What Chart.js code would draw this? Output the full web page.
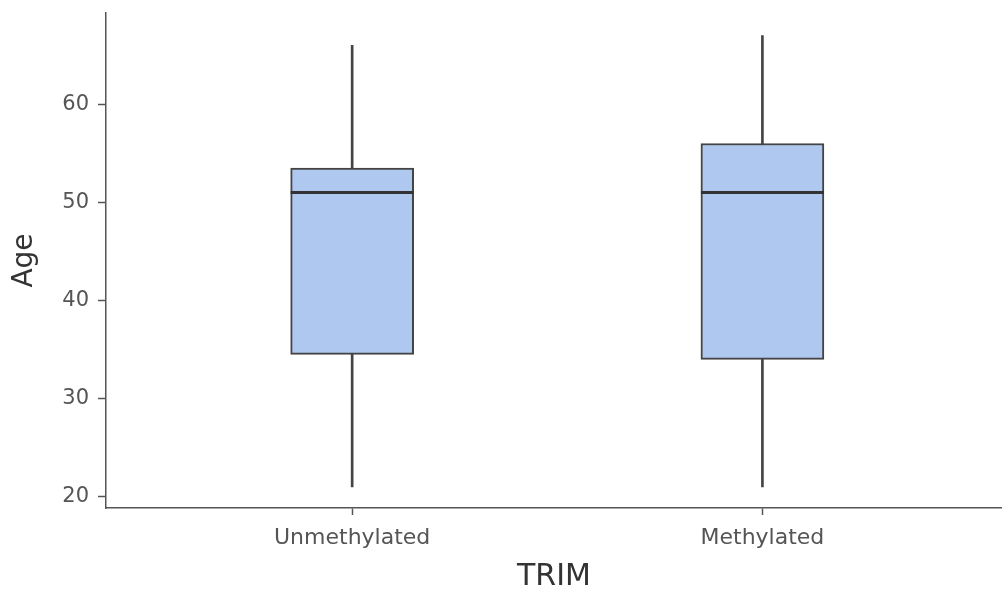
<!DOCTYPE html>
<html>
<head>
<meta charset="utf-8">
<script src="https://cdn.jsdelivr.net/npm/chart.js@4.4.1/dist/chart.umd.min.js"></script>
<style>
  html, body { margin: 0; padding: 0; background: #fff; }
  #wrap { width: 1002px; height: 595px; }
</style>
</head>
<body>
<div id="wrap"><canvas id="box"></canvas></div>
<script>
// box plot values
const categories = ['Unmethylated', 'Methylated'];
const whiskerLow = [21, 21];
const q1 = [34.5, 34];
const medians = [51, 51];
const q3 = [53.5, 56];
const whiskerHigh = [66, 67];
const yTicks = [20, 30, 40, 50, 60];

const axisColor = '#555';
const boxWidth = 123;

// x positions 1, 2 on a linear axis so the padding matches the original
const boxData = categories.map((c, i) => ({ x: i + 1, y: [q1[i], q3[i]] }));
const whiskerData = categories.map((c, i) => ({ x: i + 1, y: [whiskerLow[i], whiskerHigh[i]] }));

const medianLines = {
  id: 'medianLines',
  afterDatasetsDraw(chart) {
    const ctx = chart.ctx;
    const xs = chart.scales.x, ys = chart.scales.y;
    ctx.save();
    ctx.strokeStyle = '#333';
    ctx.lineWidth = 3;
    medians.forEach((m, i) => {
      const cx = xs.getPixelForValue(i + 1);
      const y = ys.getPixelForValue(m);
      ctx.beginPath();
      ctx.moveTo(cx - boxWidth / 2, y);
      ctx.lineTo(cx + boxWidth / 2, y);
      ctx.stroke();
    });
    ctx.restore();
  }
};

new Chart(document.getElementById('box'), {
  type: 'bar',
  data: {
    datasets: [
      {
        data: boxData,
        backgroundColor: '#aec8f0',
        borderColor: '#444',
        borderWidth: 2,
        borderSkipped: false,
        barThickness: boxWidth,
        grouped: false
      },
      {
        data: whiskerData,
        backgroundColor: '#444',
        borderWidth: 0,
        barThickness: 2,
        grouped: false
      }
    ]
  },
  options: {
    responsive: true,
    maintainAspectRatio: false,
    animation: false,
    layout: { padding: { top: 13, right: 0, left: 0, bottom: 0 } },
    plugins: {
      legend: { display: false },
      tooltip: { enabled: false }
    },
    scales: {
      x: {
        type: 'linear',
        min: 0.4,
        max: 2.584,
        offset: false,
        afterBuildTicks: (s) => { s.ticks = categories.map((c, i) => ({ value: i + 1 })); },
        afterFit: (s) => { s.height = 87; },
        ticks: {
          callback: (v) => categories[v - 1],
          color: '#555',
          font: { family: 'DejaVu Sans', size: 22 },
          padding: 10,
          maxRotation: 0
        },
        grid: {
          offset: false,
          drawOnChartArea: false,
          drawTicks: true,
          tickLength: 7,
          tickColor: axisColor,
          tickWidth: 1.5
        },
        border: { display: true, color: axisColor, width: 1.5 },
        title: {
          display: true,
          text: 'TRIM',
          color: '#333',
          font: { family: 'DejaVu Sans', size: 30 },
          padding: { top: 0, bottom: 0 }
        }
      },
      y: {
        min: 18.85,
        max: 69.3,
        afterBuildTicks: (s) => { s.ticks = yTicks.map(v => ({ value: v })); },
        afterFit: (s) => {
          s.width = 106;
          // top label (60) is far from the edge, so no extra padding is needed
          s.paddingTop = 0;
          s.paddingBottom = 0;
        },
        ticks: {
          color: '#555',
          font: { family: 'DejaVu Sans', size: 21 },
          padding: 9
        },
        grid: {
          drawOnChartArea: false,
          drawTicks: true,
          tickLength: 8,
          tickColor: axisColor,
          tickWidth: 1.5
        },
        border: { display: true, color: axisColor, width: 1.5 },
        title: {
          display: true,
          text: 'Age',
          color: '#333',
          font: { family: 'DejaVu Sans', size: 28 },
          padding: { top: 8, bottom: 0 }
        }
      }
    }
  },
  plugins: [medianLines]
});
</script>
</body>
</html>
